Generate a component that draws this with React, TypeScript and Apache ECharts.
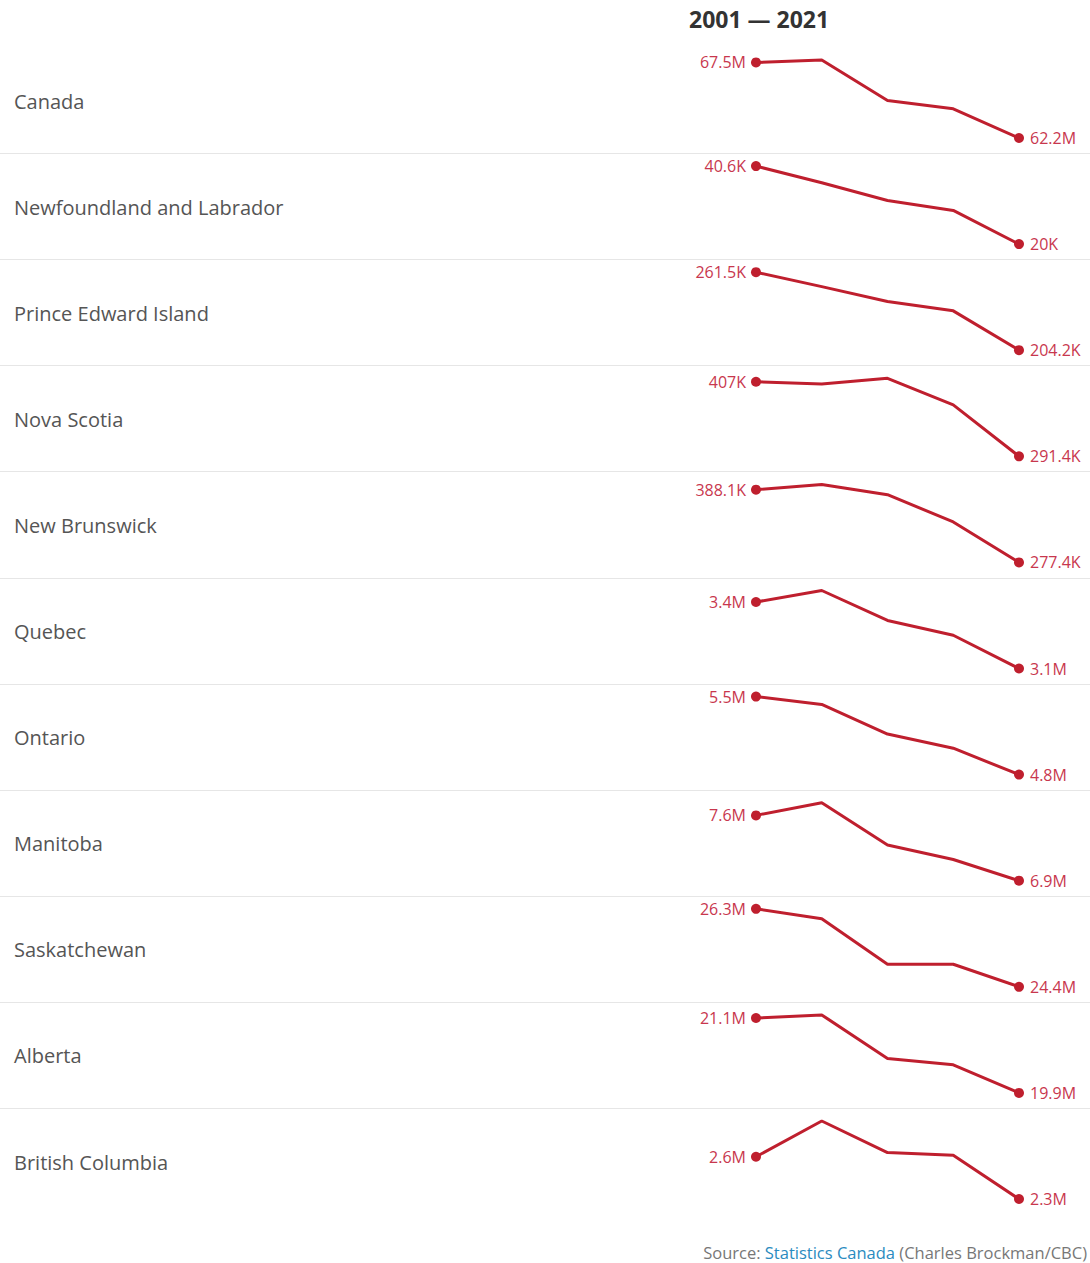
import React, { useEffect, useRef } from "react";
import * as echarts from "echarts";

const years = ["2001", "2006", "2011", "2016", "2021"];
const regions = [
  "Canada",
  "Newfoundland and Labrador",
  "Prince Edward Island",
  "Nova Scotia",
  "New Brunswick",
  "Quebec",
  "Ontario",
  "Manitoba",
  "Saskatchewan",
  "Alberta",
  "British Columbia",
];
const units = ["M", "K", "K", "K", "K", "M", "M", "M", "M", "M", "M"];

const canada = [67.5, 67.67, 64.83, 64.25, 62.2];
const newfoundland = [40.6, 36.2, 31.5, 28.9, 20.0];
const princeEdward = [261.5, 250.9, 240.0, 233.1, 204.2];
const novaScotia = [407, 403.5, 412.3, 371.1, 291.4];
const newBrunswick = [388.1, 396.1, 380.5, 339.0, 277.4];
const quebec = [3.4, 3.452, 3.317, 3.25, 3.1];
const ontario = [5.5, 5.43, 5.164, 5.037, 4.8];
const manitoba = [7.6, 7.736, 7.282, 7.127, 6.9];
const saskatchewan = [26.3, 26.06, 24.95, 24.95, 24.4];
const alberta = [21.1, 21.15, 20.45, 20.35, 19.9];
const britishColumbia = [2.6, 2.854, 2.63, 2.611, 2.3];

const seriesValues = [
  canada,
  newfoundland,
  princeEdward,
  novaScotia,
  newBrunswick,
  quebec,
  ontario,
  manitoba,
  saskatchewan,
  alberta,
  britishColumbia,
];

const titleText = "2001 \u2014 2021";

const ROW0 = 47;
const ROWH = 106.1;
const PLOT_OFF = 13;
const PLOT_H = 78;
const PLOT_LEFT = 756;
const PLOT_W = 263;

const LINE_COLOR = "#bf1f2e";
const LABEL_COLOR = "#c8374e";

function fmt(v: number, unit: string) {
  return `${+v.toFixed(1)}${unit}`;
}

export default function App() {
  const ref = useRef<HTMLDivElement>(null);
  useEffect(() => {
    document.body.style.margin = "0";
    const chart = echarts.init(ref.current!, null, { renderer: "svg" });

    const grids: any[] = [];
    const xAxes: any[] = [];
    const yAxes: any[] = [];
    const series: any[] = [];
    const graphics: any[] = [];

    regions.forEach((name, i) => {
      const rowTop = ROW0 + ROWH * i;
      grids.push({
        left: PLOT_LEFT,
        width: PLOT_W,
        top: rowTop + PLOT_OFF,
        height: PLOT_H,
        containLabel: false,
      });
      xAxes.push({
        type: "category",
        gridIndex: i,
        data: years,
        boundaryGap: false,
        show: false,
      });
      yAxes.push({
        type: "value",
        gridIndex: i,
        min: "dataMin",
        max: "dataMax",
        scale: true,
        show: false,
      });
      const vals = seriesValues[i];
      const unit = units[i];
      series.push({
        type: "line",
        xAxisIndex: i,
        yAxisIndex: i,
        clip: false,
        showAllSymbol: true,
        lineStyle: { color: LINE_COLOR, width: 3 },
        itemStyle: { color: LINE_COLOR },
        data: vals.map((v, j) => {
          const isEnd = j === 0 || j === vals.length - 1;
          if (!isEnd) return { value: v, symbol: "none" };
          return {
            value: v,
            symbol: "circle",
            symbolSize: 10,
            label: {
              show: true,
              position: j === 0 ? "left" : "right",
              distance: j === 0 ? 5 : 6,
              color: LABEL_COLOR,
              fontFamily: "Open Sans",
              fontSize: 16,
              formatter: () => fmt(v, unit),
            },
          };
        }),
      });
      graphics.push({
        type: "text",
        left: 14,
        top: rowTop + 58 - 14,
        style: {
          text: name,
          fill: "#555555",
          font: "20px 'Open Sans'",
        },
      });
      if (i > 0) {
        graphics.push({
          type: "line",
          shape: { x1: 0, y1: Math.round(rowTop) + 0.5, x2: 1090, y2: Math.round(rowTop) + 0.5 },
          style: { stroke: "#e6e6e6", lineWidth: 1 },
        });
      }
    });

    graphics.push({
      type: "text",
      left: 689,
      top: 7,
      style: {
        text: titleText,
        fill: "#333333",
        font: "bold 23px 'Open Sans'",
      },
    });
    graphics.push({
      type: "text",
      right: 3,
      top: 1244,
      style: {
        text: "{a|Source: }{b|Statistics Canada}{a| (Charles Brockman/CBC)}",
        rich: {
          a: { fill: "#777777", fontSize: 16.5, fontFamily: "Open Sans" },
          b: { fill: "#2b8bc0", fontSize: 16.5, fontFamily: "Open Sans" },
        },
      },
    });

    chart.setOption({
      animation: false,
      backgroundColor: "#ffffff",
      grid: grids,
      xAxis: xAxes,
      yAxis: yAxes,
      series,
      graphic: graphics,
    });
    return () => chart.dispose();
  }, []);
  return <div ref={ref} style={{ width: 1090, height: 1263 }} />;
}
